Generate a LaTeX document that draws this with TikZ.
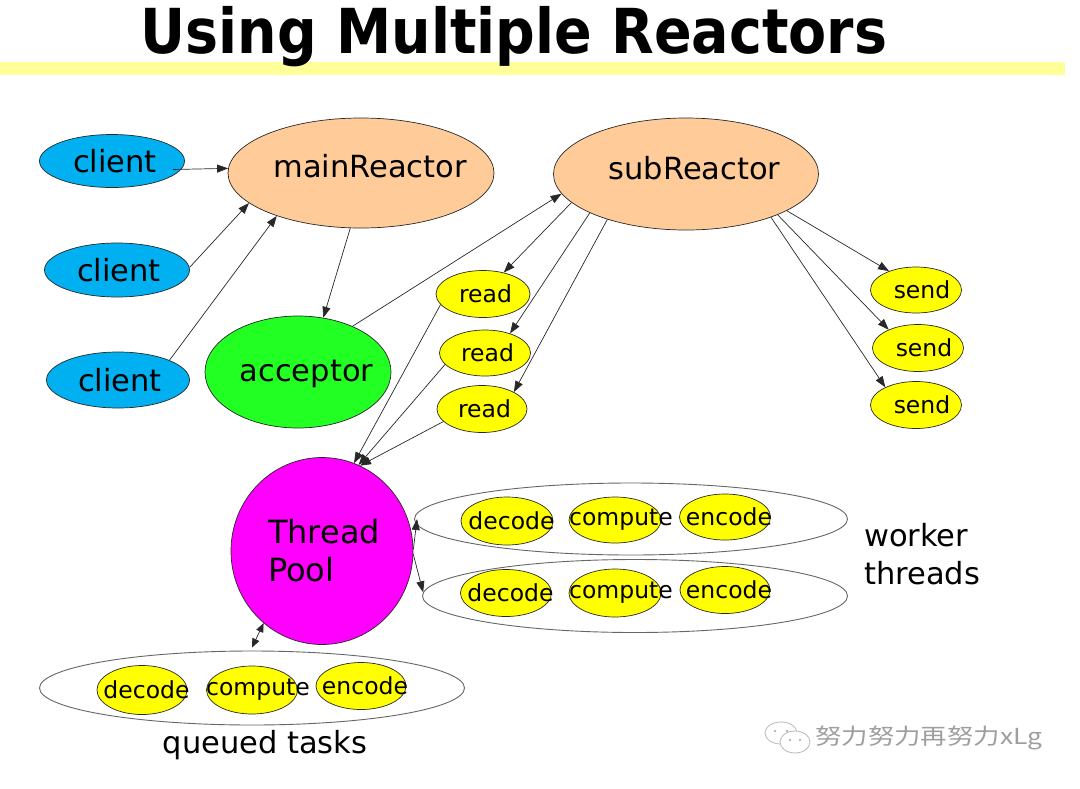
\documentclass[tikz,border=0pt]{standalone}
\usepackage{fontspec}
\setmainfont{DejaVu Sans}
\newfontfamily\cjkfont{Noto Sans CJK SC}
\usetikzlibrary{shapes.geometric,arrows.meta}
\definecolor{clientblue}{RGB}{0,176,240}
\definecolor{peach}{RGB}{255,204,153}
\definecolor{accgreen}{RGB}{34,255,34}
\definecolor{yel}{RGB}{255,255,0}
\definecolor{mag}{RGB}{255,0,255}
\definecolor{band}{RGB}{255,255,153}
\definecolor{edge}{RGB}{40,40,40}
\tikzset{
  ell/.style={ellipse, draw=edge, line width=0.7pt, inner sep=0pt, text=black},
  big/.style={font=\fontsize{30.5}{38}\selectfont, inner sep=0pt},
  small/.style={font=\fontsize{23.5}{28}\selectfont, inner sep=0pt},
  group/.style={ellipse, draw=black!60, line width=0.9pt, inner sep=0pt},
  sz/.style 2 args={minimum width=#1pt, minimum height=#2pt},
  arr/.style={draw=edge, line width=0.7pt, -{Triangle[length=11pt,width=8pt]}},
  dbl/.style={draw=edge, line width=0.7pt, {Triangle[length=9pt,width=7.5pt]}-{Triangle[length=9pt,width=7.5pt]}},
  wmk/.style={draw=black!28, line width=0.8pt, fill=white},
}
\begin{document}
\begin{tikzpicture}[x=1pt,y=-1pt]
\useasboundingbox (0,0) rectangle (1080,788);
\fill[white] (0,0) rectangle (1080,788);
% title band and title
\fill[band] (0,62) rectangle (1065,75);
\node[anchor=base, inner sep=0pt] (title) at (514,53)
  {\scalebox{0.895}[1]{\fontsize{62}{62}\selectfont\bfseries Using Multiple Reactors}};
% group ellipses
\node[group, sz={433}{72}] (w1) at (631,519) {};
\node[group, sz={425}{73}] (w2) at (635,596) {};
\node[group, sz={425}{74}] (q) at (252,688) {};
% clients
\node[ell, fill=clientblue, sz={145}{53}, label={[big,xshift=3pt]center:client}] (c1) at (112,161) {};
\node[ell, fill=clientblue, sz={145}{54}, label={[big,xshift=2pt]center:client}] (c2) at (117,270) {};
\node[ell, fill=clientblue, sz={143}{56}, label={[big,xshift=2pt]center:client}] (c3) at (118,380) {};
% reactors
\node[ell, fill=peach, sz={266}{110}, label={[big,xshift=9pt,yshift=7pt]center:mainReactor}] (mr) at (361,173) {};
\node[ell, fill=peach, sz={265}{112}, label={[big,xshift=8.5pt,yshift=6pt]center:subReactor}] (sr) at (686,174) {};
\node[ell, fill=accgreen, sz={186}{112}, label={[big,xshift=8.5pt,yshift=-2pt]center:acceptor}] (acc) at (298,372) {};
% read / send
\node[ell, fill=yel, sz={94}{47}, label={[small,xshift=2.5pt]center:read}] (r1) at (483,294) {};
\node[ell, fill=yel, sz={91}{46}, label={[small,xshift=2.5pt]center:read}] (r2) at (485,353) {};
\node[ell, fill=yel, sz={90}{47}, label={[small,xshift=2.5pt]center:read}] (r3) at (482,409) {};
\node[ell, fill=yel, sz={91}{46}, label={[small,xshift=6pt]center:send}] (s1) at (916,290) {};
\node[ell, fill=yel, sz={91}{47}, label={[small,xshift=6pt]center:send}] (s2) at (918,348) {};
\node[ell, fill=yel, sz={91}{47}, label={[small,xshift=6pt]center:send}] (s3) at (916,405) {};
% thread pool
\node[ell, fill=mag, sz={182}{187}, font=\fontsize{32}{38}\selectfont, align=left,
  label={[font=\fontsize{32}{38}\selectfont, align=left, inner sep=0pt, xshift=2pt]center:Thread\\Pool}] (tp) at (322,551) {};
% worker tasks
\node[ell, fill=yel, sz={92}{48}, label={[small,xshift=4.5pt]center:decode}] (d1) at (507,521) {};
\node[ell, fill=yel, sz={92}{46}, label={[small,xshift=6pt]center:compute}] (p1) at (615,520) {};
\node[ell, fill=yel, sz={91}{46}, label={[small,xshift=4pt]center:encode}] (e1) at (725,517) {};
\node[ell, fill=yel, sz={91}{47}, label={[small,xshift=4.5pt]center:decode}] (d2) at (506,593) {};
\node[ell, fill=yel, sz={92}{48}, label={[small,xshift=6pt]center:compute}] (p2) at (615,593) {};
\node[ell, fill=yel, sz={90}{47}, label={[small,xshift=4pt]center:encode}] (e2) at (725,590) {};
% queued tasks
\node[ell, fill=yel, sz={90}{49}, label={[small,xshift=4.5pt]center:decode}] (d3) at (142,690) {};
\node[ell, fill=yel, sz={91}{48}, label={[small,xshift=6pt]center:compute}] (p3) at (252,690) {};
\node[ell, fill=yel, sz={90}{47}, label={[small,xshift=4pt]center:encode}] (e3) at (361,686) {};
% captions
\node[big, align=left, anchor=west] (wt) at (864,554) {worker\\threads};
\node[big, anchor=base] (qt) at (265,753) {queued tasks};
% connectors
\draw[arr] ([xshift=-8pt]c1.-7) -- (mr.178);
\draw[arr] (c2.2) -- (mr.195);
\draw[arr] (c3.21) -- (mr.207);
\draw[arr] (mr.259) -- (acc.65);
\draw[arr] (acc.40) -- (sr.189);
\draw[arr] (sr.194) -- (r1.46);
\draw[arr] (sr.202) -- (r2.38);
\draw[arr] (sr.210) -- (r3.28);
\draw[arr] (sr.-20) -- (s1.145);
\draw[arr] (sr.-24) -- (s2.148);
\draw[arr] (sr.-27) -- (s3.150);
\draw[arr] (r1.194) -- (tp.70);
\draw[arr] (r2.196) -- (tp.67);
\draw[arr] (r3.198) -- (tp.66);
\draw[arr] (tp.1) -- ([xshift=3pt]w1.west);
\draw[arr] (tp.-2) -- (w2.179);
\draw[dbl] (tp.231) -- ([yshift=3pt]q.north);
% watermark
\draw[wmk] (781,733) ellipse [x radius=16pt, y radius=11pt];
\draw[wmk] (795,742) ellipse [x radius=15pt, y radius=11pt];
\fill[black!28] (775,731) circle [radius=1.3pt] (787,731) circle [radius=1.3pt]
  (790,740) circle [radius=1.3pt] (800,740) circle [radius=1.3pt];
\node[anchor=west, inner sep=0pt, text=black!38] (wm) at (815,738)
  {\scalebox{1.2}[1]{\cjkfont\fontsize{22}{22}\selectfont 努力努力再努力xLg}};
\end{tikzpicture}
\end{document}
